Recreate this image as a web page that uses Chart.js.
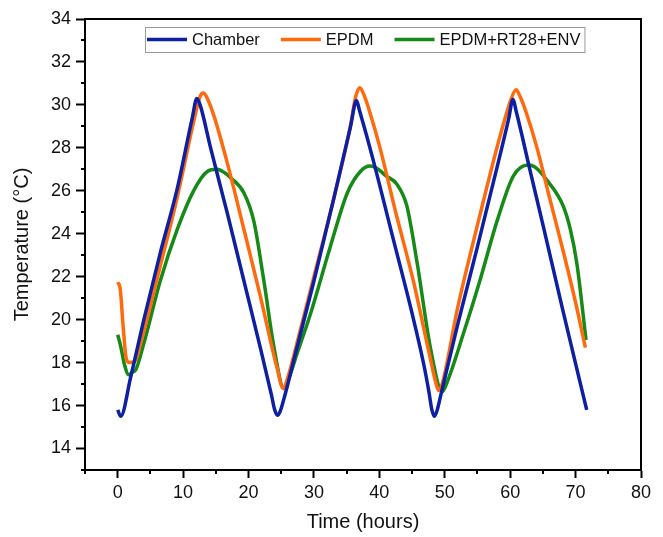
<!DOCTYPE html>
<html>
<head>
  <title>Temperature vs Time</title>
  <script src="https://cdn.jsdelivr.net/npm/chart.js"></script>
  <style>
    body { margin: 0; background: #fff; }
    .chart-container { position: relative; width: 663px; height: 537px; }
  </style>
</head>
<body>
  <div class="chart-container">
    <canvas id="tempChart"></canvas>
  </div>

  <script>
    // series names and colours
    const seriesNames = ['Chamber', 'EPDM', 'EPDM+RT28+ENV'];
    const seriesColors = ['#0d1fa3', '#ff6a0e', '#168a16'];

    // values (time in hours, temperature in °C)
    const chamberTime = [0, 0.45, 2, 4, 6.5, 9.1, 11.4, 12.1, 12.6, 14.2, 16.8, 19.3, 21.8, 23.5, 24.0, 24.4, 24.8, 25.4, 27.4, 30, 33, 35.6, 36.5, 37, 39, 42, 45, 46.8, 47.6, 48.0, 48.4, 48.8, 49.4, 52, 55, 58, 59.8, 60.4, 61, 63, 65.1, 68, 71.7];
    const chamberTemp = [15.8, 15.5, 17.35, 20.0, 23.1, 26.1, 29.4, 30.3, 30.0, 28.0, 24.9, 21.8, 18.7, 16.5, 15.8, 15.55, 15.7, 16.3, 18.7, 21.8, 25.6, 29.0, 30.2, 29.7, 27.5, 23.9, 20.3, 17.9, 16.6, 15.85, 15.5, 15.75, 16.5, 19.8, 23.4, 27.1, 29.4, 30.25, 29.6, 27.0, 24.3, 20.5, 15.8];

    const epdmTime = [0, 0.4, 0.8, 1.3, 1.8, 2.6, 3.5, 6.5, 9.1, 11.6, 12.6, 13.1, 13.7, 14.7, 16.75, 19.3, 21.8, 24.4, 25.3, 26.0, 27.4, 30, 33, 35.5, 36.4, 37, 37.6, 38.6, 40.1, 42.5, 45.2, 47.5, 48.6, 49.05, 49.6, 52, 55.4, 58.5, 60.3, 60.9, 61.5, 62.5, 64.1, 66, 68.1, 70, 71.5];
    const epdmTemp = [21.75, 21.4, 19.8, 18.2, 18.0, 18.05, 18.9, 22.5, 25.7, 29.2, 30.4, 30.55, 30.3, 29.5, 27.3, 24.2, 21.1, 17.7, 16.8, 17.3, 18.9, 22.0, 25.6, 28.9, 30.4, 30.8, 30.5, 29.6, 28.0, 25.0, 21.8, 18.6, 17.1, 16.7, 17.0, 20.6, 24.9, 28.6, 30.4, 30.7, 30.4, 29.6, 28.0, 25.7, 23.2, 20.8, 18.7];

    const envTime = [0, 0.5, 1.0, 1.7, 2.2, 2.75, 4, 6.5, 9.1, 11.6, 13.7, 15.2, 16.3, 17.3, 19.3, 20.8, 22.3, 23.9, 25.4, 26.2, 27.4, 29.5, 32.5, 35.1, 37.1, 38.6, 39.6, 41, 42.7, 44.2, 45.8, 47.8, 49.6, 50.5, 52.9, 55.4, 58, 60.5, 62.8, 63.8, 65.6, 68.1, 69.2, 70.2, 71.6];
    const envTemp = [19.3, 18.7, 17.95, 17.43, 17.55, 17.66, 18.9, 21.8, 24.2, 26.0, 26.9, 27.0, 26.85, 26.6, 25.9, 24.6, 21.9, 18.7, 16.8, 17.3, 18.4, 20.3, 23.4, 25.9, 26.9, 27.15, 27.05, 26.7, 26.3, 25.3, 22.6, 18.7, 16.65, 17.2, 19.4, 21.85, 24.6, 26.7, 27.2, 27.1, 26.5, 25.3, 24.2, 22.6, 19.05];

    // axis ticks
    const xTicks = [0, 10, 20, 30, 40, 50, 60, 70, 80];
    const xMinorTicks = [-5, 5, 15, 25, 35, 45, 55, 65, 75];
    const yTicks = [14, 16, 18, 20, 22, 24, 26, 28, 30, 32, 34];
    const yMinorTicks = [13, 15, 17, 19, 21, 23, 25, 27, 29, 31, 33];

    const FONT = '"Liberation Sans", Arial, sans-serif';

    function toPoints(ts, vs) {
      return ts.map((t, i) => ({ x: t, y: vs[i] }));
    }

    const seriesData = [
      toPoints(chamberTime, chamberTemp),
      toPoints(epdmTime, epdmTemp),
      toPoints(envTime, envTemp)
    ];

    // top/right frame plus short minor ticks
    const framePlugin = {
      id: 'frame',
      afterDraw(chart) {
        const { ctx, chartArea: a, scales: { x, y } } = chart;
        ctx.save();
        ctx.strokeStyle = '#000';
        ctx.lineWidth = 2;
        ctx.beginPath();
        ctx.moveTo(a.left, a.top);
        ctx.lineTo(a.right, a.top);
        ctx.lineTo(a.right, a.bottom);
        ctx.stroke();
        ctx.beginPath();
        xMinorTicks.forEach(v => {
          const px = Math.round(x.getPixelForValue(v));
          ctx.moveTo(px, a.bottom);
          ctx.lineTo(px, a.bottom + 4);
        });
        yMinorTicks.forEach(v => {
          const py = Math.round(y.getPixelForValue(v));
          ctx.moveTo(a.left, py);
          ctx.lineTo(a.left - 4, py);
        });
        ctx.stroke();
        ctx.restore();
      }
    };

    // boxed legend sitting inside the plot
    const legendBox = {
      id: 'legendBox',
      afterDraw(chart) {
        const { ctx, chartArea: a } = chart;
        ctx.save();
        ctx.font = '16.5px ' + FONT;
        const lineLen = 40, gapText = 5, gapItem = 21, padL = 2, padR = 4;
        const widths = seriesNames.map(n => ctx.measureText(n).width);
        const total = padL + padR + widths.reduce((s, w) => s + lineLen + gapText + w, 0) + gapItem * (seriesNames.length - 1);
        const left = Math.round((a.left + a.right) / 2 + 2 - total / 2);
        const top = Math.round(a.top + 8), h = 25, cy = top + h / 2;
        ctx.fillStyle = '#fff';
        ctx.fillRect(left, top, total, h);
        ctx.strokeStyle = '#9a9a9a';
        ctx.lineWidth = 1;
        ctx.strokeRect(left + 0.5, top + 0.5, total, h);
        let cx = left + padL;
        seriesNames.forEach((n, i) => {
          ctx.strokeStyle = seriesColors[i];
          ctx.lineWidth = 3.5;
          ctx.beginPath();
          ctx.moveTo(cx, cy);
          ctx.lineTo(cx + lineLen, cy);
          ctx.stroke();
          cx += lineLen + gapText;
          ctx.fillStyle = '#111';
          ctx.textBaseline = 'middle';
          ctx.fillText(n, cx, cy + 1);
          cx += widths[i] + gapItem;
        });
        ctx.restore();
      }
    };

    new Chart(document.getElementById('tempChart'), {
      type: 'line',
      data: {
        datasets: seriesNames.map((name, i) => ({
          label: name,
          data: seriesData[i],
          borderColor: seriesColors[i],
          backgroundColor: seriesColors[i],
          borderWidth: 3.5,
          pointRadius: 0,
          fill: false,
          cubicInterpolationMode: 'monotone'
        }))
      },
      options: {
        responsive: true,
        maintainAspectRatio: false,
        animation: false,
        layout: { padding: { left: 0, right: 22, top: 19, bottom: 0 } },
        plugins: {
          legend: { display: false },
          tooltip: { enabled: false }
        },
        scales: {
          x: {
            type: 'linear',
            min: -5,
            max: 80,
            afterBuildTicks: s => { s.ticks = xTicks.map(v => ({ value: v })); },
            afterFit: s => { s.height = 67; },
            ticks: { color: '#111', font: { family: FONT, size: 18 }, padding: 4, maxRotation: 0, autoSkip: false },
            grid: { drawOnChartArea: false, drawTicks: true, tickLength: 8, tickWidth: 2, tickColor: '#000' },
            border: { display: true, color: '#000', width: 2 },
            title: { display: true, text: 'Time (hours)', color: '#111', font: { family: FONT, size: 20 }, padding: { top: 0, bottom: 3 } }
          },
          y: {
            min: 13,
            max: 34,
            afterBuildTicks: s => { s.ticks = yTicks.map(v => ({ value: v })); },
            afterFit: s => { s.width = 85; },
            ticks: { color: '#111', font: { family: FONT, size: 18 }, padding: 5, autoSkip: false },
            grid: { drawOnChartArea: false, drawTicks: true, tickLength: 9, tickWidth: 2, tickColor: '#000' },
            border: { display: true, color: '#000', width: 2 },
            title: { display: true, text: 'Temperature (°C)', color: '#111', font: { family: FONT, size: 20 }, padding: { top: 10, bottom: 0 } }
          }
        }
      },
      plugins: [framePlugin, legendBox]
    });
  </script>
</body>
</html>
